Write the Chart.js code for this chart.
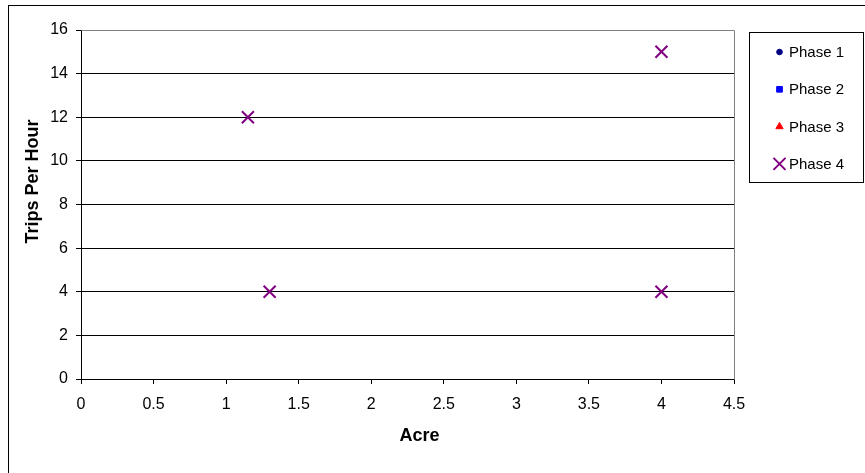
<!DOCTYPE html>
<html>
<head>
<meta charset="utf-8">
<script src="https://cdn.jsdelivr.net/npm/chart.js@4/dist/chart.umd.min.js"></script>
<style>
  html, body { margin: 0; padding: 0; background: #ffffff; }
  canvas { display: block; }
</style>
</head>
<body>
<canvas id="chart" width="865" height="473"></canvas>
<script>
// Series names and the measured points
const phases = ['Phase 1', 'Phase 2', 'Phase 3', 'Phase 4'];
const phase1Acre = [];
const phase1Trips = [];
const phase2Acre = [];
const phase2Trips = [];
const phase3Acre = [];
const phase3Trips = [];
const phase4Acre = [1.15, 1.3, 4, 4];
const phase4Trips = [12, 4, 15, 4];

// Axis ranges and titles
const xMin = 0, xMax = 4.5, xStep = 0.5;
const yMin = 0, yMax = 16, yStep = 2;
const xTitle = 'Acre';
const yTitle = 'Trips Per Hour';

const FONT = "'Liberation Sans', Arial, sans-serif";

function toPoints(xs, ys) {
  return xs.map((x, i) => ({ x: x, y: ys[i] }));
}

const seriesStyles = [
  { color: '#000080', pointStyle: 'circle', radius: 2.8, borderWidth: 1 },
  { color: '#0000ff', pointStyle: 'rect', radius: 4, borderWidth: 1 },
  { color: '#ff0000', pointStyle: 'triangle', radius: 4.2, borderWidth: 1 },
  { color: '#800080', pointStyle: 'crossRot', radius: 8.5, borderWidth: 2 }
];

const seriesData = [
  toPoints(phase1Acre, phase1Trips),
  toPoints(phase2Acre, phase2Trips),
  toPoints(phase3Acre, phase3Trips),
  toPoints(phase4Acre, phase4Trips)
];

const datasets = phases.map((name, i) => ({
  label: name,
  data: seriesData[i],
  showLine: false,
  pointStyle: seriesStyles[i].pointStyle,
  pointRadius: seriesStyles[i].radius,
  pointHoverRadius: seriesStyles[i].radius,
  pointBorderWidth: seriesStyles[i].borderWidth,
  pointBackgroundColor: seriesStyles[i].color,
  pointBorderColor: seriesStyles[i].color,
  backgroundColor: seriesStyles[i].color,
  borderColor: seriesStyles[i].color
}));

// Frame around the whole chart, gray plot border and the boxed legend
const decorations = {
  id: 'decorations',
  beforeDraw(chart) {
    const ctx = chart.ctx;
    ctx.save();
    ctx.fillStyle = '#ffffff';
    ctx.fillRect(0, 0, chart.width, chart.height);
    ctx.restore();
  },
  afterDraw(chart) {
    const ctx = chart.ctx;
    const a = chart.chartArea;
    ctx.save();

    // plot area border (top and right)
    ctx.strokeStyle = '#808080';
    ctx.lineWidth = 1;
    ctx.beginPath();
    ctx.moveTo(Math.round(a.left) + 0.5, Math.round(a.top) + 0.5);
    ctx.lineTo(Math.round(a.right) + 0.5, Math.round(a.top) + 0.5);
    ctx.lineTo(Math.round(a.right) + 0.5, Math.round(a.bottom) + 0.5);
    ctx.stroke();

    // outer frame
    ctx.strokeStyle = '#000000';
    ctx.strokeRect(8.5, 5.5, 1000, 1000);

    // legend box
    const lx = 749.5, ly = 32.5, lw = 114, lh = 150;
    ctx.strokeRect(lx, ly, lw, lh);
    ctx.font = '15px ' + FONT;
    ctx.fillStyle = '#000000';
    ctx.textBaseline = 'middle';
    ctx.textAlign = 'left';
    chart.data.datasets.forEach((ds, i) => {
      const cy = 52 + i * 37.3;
      ctx.save();
      ctx.fillStyle = ds.pointBackgroundColor;
      ctx.strokeStyle = ds.pointBorderColor;
      ctx.lineWidth = ds.pointBorderWidth;
      Chart.helpers.drawPoint(ctx, {
        pointStyle: ds.pointStyle,
        radius: ds.pointRadius,
        borderWidth: ds.pointBorderWidth,
        rotation: 0
      }, 779.5, cy);
      ctx.restore();
      ctx.fillText(ds.label, 789, cy + 1);
    });

    // axis titles
    ctx.font = 'bold 18px ' + FONT;
    ctx.textAlign = 'center';
    ctx.textBaseline = 'middle';
    ctx.fillText(xTitle, (a.left + a.right) / 2 + 12, a.bottom + 57);
    ctx.translate(33, (a.top + a.bottom) / 2 - 23);
    ctx.rotate(-Math.PI / 2);
    ctx.fillText(yTitle, 0, 0);

    ctx.restore();
  }
};

new Chart(document.getElementById('chart'), {
  type: 'scatter',
  data: { datasets: datasets },
  options: {
    responsive: false,
    animation: false,
    devicePixelRatio: 1,
    layout: { padding: { left: 0, top: 30, right: 131, bottom: 0 } },
    plugins: {
      legend: { display: false },
      tooltip: { enabled: false }
    },
    scales: {
      x: {
        type: 'linear',
        min: xMin,
        max: xMax,
        afterFit(scale) { scale.height = 94; },
        ticks: {
          stepSize: xStep,
          color: '#000000',
          padding: 11,
          font: { family: FONT, size: 16 },
          maxRotation: 0,
          callback: (v) => String(v)
        },
        grid: {
          drawOnChartArea: false,
          drawTicks: true,
          tickLength: 5,
          color: '#000000'
        },
        border: { color: '#000000', width: 1 }
      },
      y: {
        type: 'linear',
        min: yMin,
        max: yMax,
        afterFit(scale) { scale.width = 81; },
        ticks: {
          stepSize: yStep,
          color: '#000000',
          padding: 8,
          font: { family: FONT, size: 16 },
          callback: (v) => String(v)
        },
        grid: {
          drawTicks: true,
          tickLength: 5,
          color: '#000000'
        },
        border: { color: '#000000', width: 1 }
      }
    }
  },
  plugins: [decorations]
});
</script>
</body>
</html>
